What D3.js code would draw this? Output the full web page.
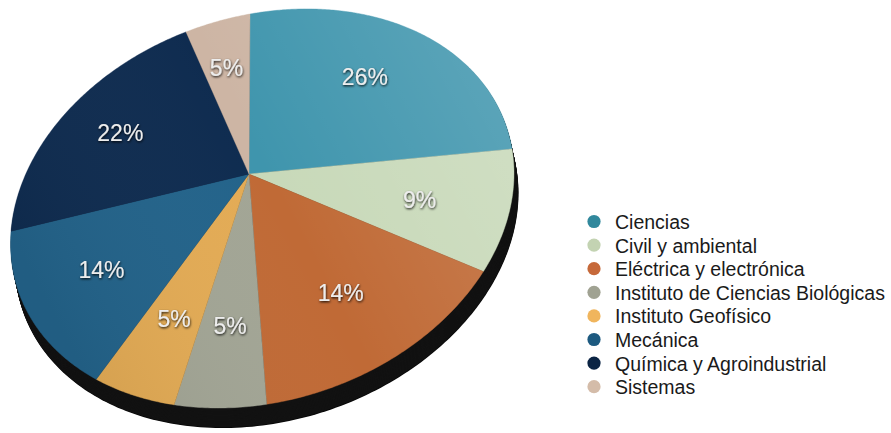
<!DOCTYPE html>
<html>
<head>
<meta charset="utf-8">
<script src="https://cdn.jsdelivr.net/npm/d3@7"></script>
<style>
  html, body { margin: 0; padding: 0; background: #ffffff; }
  svg { display: block; }
</style>
</head>
<body>
<svg id="chart" width="891" height="433"></svg>
<script>
// ---- Data ----
const categories = [
  "Ciencias",
  "Civil y ambiental",
  "Eléctrica y electrónica",
  "Instituto de Ciencias Biológicas",
  "Instituto Geofísico",
  "Mecánica",
  "Química y Agroindustrial",
  "Sistemas"
];
const values = [26, 9, 14, 5, 5, 14, 22, 5];
const valueLabels = ["26%", "9%", "14%", "5%", "5%", "14%", "22%", "5%"];

// ---- Styles ----
const sliceColors  = ["#3f95ad", "#c8d9b9", "#c06a36", "#a2a595", "#e3ab55", "#23638a", "#0f2c50", "#cdb5a4"];
const legendColors = ["#31889c", "#c3d3b2", "#c6693a", "#a0a292", "#f0b55d", "#1d5a80", "#0b2444", "#d4bca9"];

const svg = d3.select("#chart");
const defs = svg.append("defs");

// perspective projection of the unit disc (tilted pie)
const H = { a11: 233.6, a12: -47.25, a21: -44.53, a22: 157.41, bx: 249, by: 174, cx: -0.0526, cy: -0.185 };
function proj(a, r) {
  const sx = r * Math.sin(a), sy = -r * Math.cos(a);
  const w = 1 + H.cx * sx + H.cy * sy;
  return [(H.a11 * sx + H.a12 * sy + H.bx) / w, (H.a21 * sx + H.a22 * sy + H.by) / w];
}

const pie = d3.pie().sort(null).value(d => d).startAngle(0).endAngle(2 * Math.PI);
const arcs = pie(values);

function slicePath(d) {
  const n = Math.max(4, Math.ceil((d.endAngle - d.startAngle) / 0.01));
  const pts = [proj(0, 0)];
  for (let i = 0; i <= n; i++) pts.push(proj(d.startAngle + (d.endAngle - d.startAngle) * i / n, 1));
  return "M" + pts.map(p => p[0].toFixed(2) + "," + p[1].toFixed(2)).join("L") + "Z";
}
function discPath(dx, dy) {
  const pts = d3.range(0, 361).map(i => proj(i * Math.PI / 180, 1));
  return "M" + pts.map(p => (p[0] + dx).toFixed(2) + "," + (p[1] + dy).toFixed(2)).join("L") + "Z";
}

// light overlay
const lightGrad = defs.append("linearGradient").attr("id", "lightGrad")
  .attr("gradientUnits", "userSpaceOnUse")
  .attr("x1", 60).attr("y1", 330).attr("x2", 510).attr("y2", 90);
lightGrad.append("stop").attr("offset", "0%").attr("stop-color", "#000").attr("stop-opacity", 0.06);
lightGrad.append("stop").attr("offset", "50%").attr("stop-color", "#fff").attr("stop-opacity", 0);
lightGrad.append("stop").attr("offset", "100%").attr("stop-color", "#fff").attr("stop-opacity", 0.15);

const shadow = defs.append("filter").attr("id", "txtShadow")
  .attr("x", "-20%").attr("y", "-20%").attr("width", "140%").attr("height", "160%");
shadow.append("feDropShadow").attr("dx", 0.5).attr("dy", 1.2).attr("stdDeviation", 0.8)
  .attr("flood-color", "#000").attr("flood-opacity", 0.9);

// side / thickness
const side = svg.append("g");
const steps = 24;
for (let i = steps; i >= 1; i--) {
  const t = i / steps;
  side.append("path").attr("d", discPath(4.5 * t, 20 * t)).attr("fill", i === steps ? "#070707" : "#121212");
}

// slices
const gPie = svg.append("g");
gPie.selectAll("path.slice").data(arcs).join("path")
  .attr("class", "slice")
  .attr("d", slicePath)
  .attr("fill", (d, i) => sliceColors[i])
  .attr("stroke", (d, i) => sliceColors[i])
  .attr("stroke-width", 0.4);

gPie.append("path").attr("d", discPath(0, 0)).attr("fill", "url(#lightGrad)");

// labels
gPie.selectAll("text.lbl").data(arcs).join("text")
  .attr("class", "lbl")
  .attr("x", d => proj((d.startAngle + d.endAngle) / 2, 0.68)[0])
  .attr("y", d => proj((d.startAngle + d.endAngle) / 2, 0.68)[1] + 3)
  .attr("text-anchor", "middle")
  .attr("dominant-baseline", "central")
  .attr("font-family", "'Liberation Sans', Arial, Helvetica, sans-serif")
  .attr("font-size", 23)
  .attr("fill", "#ededed")
  .attr("filter", "url(#txtShadow)")
  .text((d, i) => valueLabels[i]);

// legend
const legend = svg.append("g").attr("transform", "translate(594,221.5)");
const rowH = 23.6;
const items = legend.selectAll("g.item").data(categories).join("g")
  .attr("class", "item")
  .attr("transform", (d, i) => `translate(0,${i * rowH})`);
items.append("circle").attr("r", 6.6).attr("fill", (d, i) => legendColors[i]);
items.append("text")
  .attr("x", 21).attr("y", 0.5)
  .attr("dominant-baseline", "central")
  .attr("font-family", "'Liberation Sans', Arial, Helvetica, sans-serif")
  .attr("font-size", 19.5)
  .attr("fill", "#1a1a1a")
  .text(d => d);
</script>
</body>
</html>
